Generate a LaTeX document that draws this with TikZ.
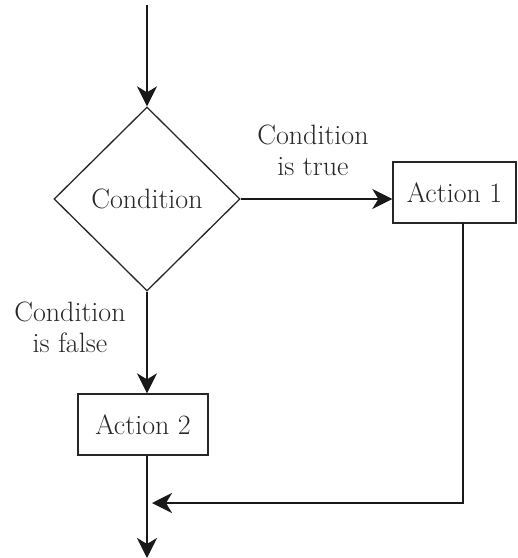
\documentclass[tikz,border=0pt]{standalone}
\usetikzlibrary{arrows.meta,shapes.geometric}
\begin{document}
\begin{tikzpicture}[x=1pt,y=-1pt,
  txt/.style={font=\fontsize{28}{31}\selectfont, text=black!85},
  shapeline/.style={draw=black!85, line width=1.3pt},
  box/.style={shapeline, rectangle, minimum height=61pt, inner sep=0pt, txt},
  arr/.style={draw=black!90, line width=2.4pt, -{Stealth[length=20pt,width=20pt,inset=6pt]}}]
\useasboundingbox (0,0) rectangle (518,558);
\node[shapeline, diamond, minimum width=186pt, minimum height=184pt, inner sep=0pt, txt] (cond) at (147,199) {Condition};
\node[box, minimum width=123pt] (a1) at (454.5,192.5) {Action 1};
\node[box, minimum width=130pt] (a2) at (143,424.5) {Action 2};
\node[txt, align=center] (ltrue) at (313,150) {Condition\\is true};
\node[txt, align=center] (lfalse) at (70,327) {Condition\\is false};
\coordinate (top) at (147,5);
\coordinate (bot) at (147,558);
\coordinate (a1out) at (463,223);
\coordinate (join) at (152,503);
\draw[arr] (top) -- (cond.north);
\draw[arr] (cond.east) -- (cond.east -| a1.west);
\draw[arr] (cond.south) -- (a2.north -| cond.south);
\draw[arr] (a2.south -| top) -- (bot);
\draw[arr] (a1out) |- (join);
\end{tikzpicture}
\end{document}
